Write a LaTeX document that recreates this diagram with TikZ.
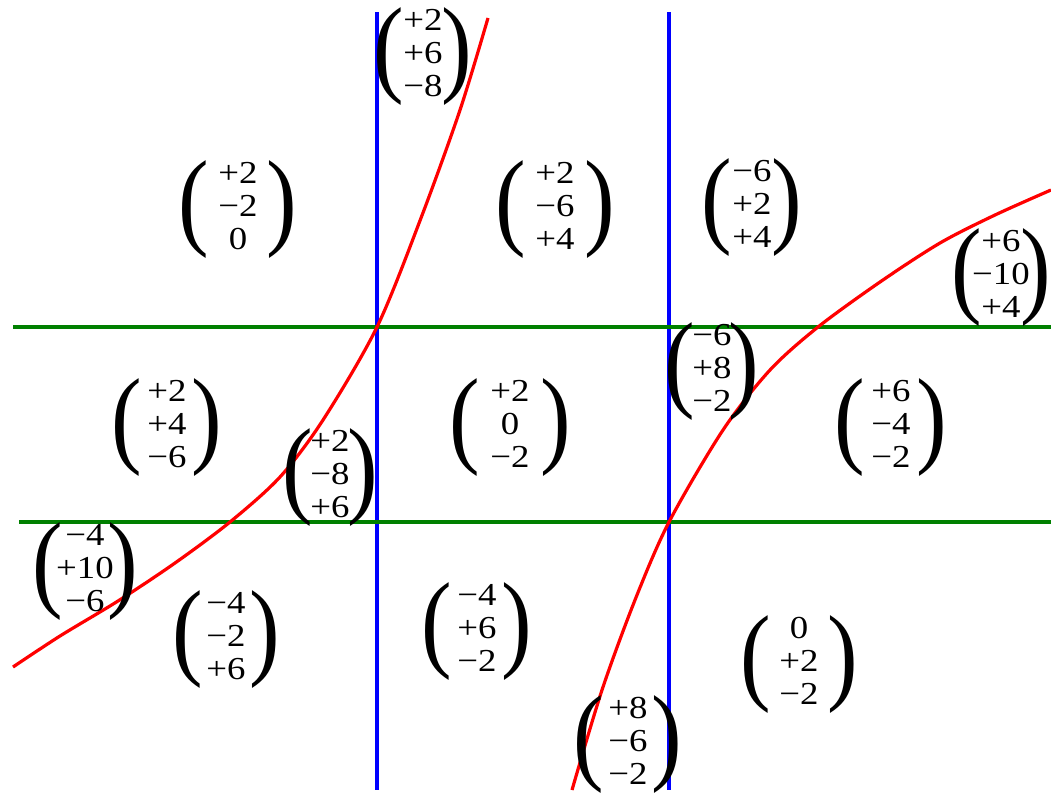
\documentclass[tikz,border=0pt]{standalone}
\usepackage{fontspec}
\setmainfont{Liberation Serif}
\usepackage{graphicx}
\usetikzlibrary{positioning}

\newcommand{\bigparen}[1]{$\vcenter{\hbox{\fontsize{108}{108}\selectfont\scalebox{0.85}[1]{#1}}}$}
% #1 = overall width of the bracketed column
\newcommand{\vect}[4]{\hbox to #1{\bigparen{(}\hss\scalebox{1.15}[1]{\begin{tabular}{@{}c@{}}#2\\#3\\#4\end{tabular}}\hss\bigparen{)}}}

\begin{document}
\begin{tikzpicture}[x=1pt, y=-1pt,
  vec/.style={inner sep=0pt, font=\fontsize{32}{33}\selectfont},
  bline/.style={blue, line width=3.2pt},
  gline/.style={green!50!black, line width=3.2pt},
  rline/.style={red, line width=3.2pt}]
  \useasboundingbox (0,0) rectangle (1051,795);

  \coordinate (b1t) at (377,12);  \coordinate (b1b) at (377,790);
  \coordinate (b2t) at (669,12);  \coordinate (b2b) at (669,790);
  \coordinate (g1l) at (13,327);  \coordinate (g1r) at (1051,327);
  \coordinate (g2l) at (19,522);  \coordinate (g2r) at (1051,522);

  \draw[bline] (b1t) -- (b1b);
  \draw[bline] (b2t) -- (b2b);
  \draw[gline] (g1l) -- (g1r);
  \draw[gline] (g2l) -- (g2r);

  % the two red curves
  \draw[rline] plot[smooth] coordinates {(13,667) (60,636) (118,601) (175,563)
    (230,522) (280,477) (323,420) (377,327) (421,218) (460,110) (488,18)};
  \draw[rline] plot[smooth] coordinates {(572,790) (602,690) (635,600) (669,522)
    (723,430) (770,370) (818,327) (880,282) (940,243) (995,215) (1051,190)};

  \node[vec] (v1)  at (238,210) {\vect{119pt}{+2}{−2}{0}};
  \node[vec] (v2)  at (423,57)  {\vect{99pt}{+2}{+6}{−8}};
  \node[vec] (v3)  at (555,210) {\vect{120pt}{+2}{−6}{+4}};
  \node[vec] (v4)  at (752,208) {\vect{101pt}{−6}{+2}{+4}};
  \node[vec] (v5)  at (1001,278) {\vect{100pt}{+6}{−10}{+4}};
  \node[vec] (v6)  at (167,428) {\vect{111pt}{+2}{+4}{−6}};
  \node[vec] (v7)  at (330,478) {\vect{96pt}{+2}{−8}{+6}};
  \node[vec] (v8)  at (510,428) {\vect{122pt}{+2}{0}{−2}};
  \node[vec] (v9)  at (712,372) {\vect{95pt}{−6}{+8}{−2}};
  \node[vec] (v10) at (891,428) {\vect{113pt}{+6}{−4}{−2}};
  \node[vec] (v11) at (85,572)  {\vect{106pt}{−4}{+10}{−6}};
  \node[vec] (v12) at (226,640) {\vect{108pt}{−4}{−2}{+6}};
  \node[vec] (v13) at (477,632) {\vect{111pt}{−4}{+6}{−2}};
  \node[vec] (v14) at (799,665) {\vect{118pt}{0}{+2}{−2}};
  \node[vec] (v15) at (628,745) {\vect{109pt}{+8}{−6}{−2}};
\end{tikzpicture}
\end{document}
